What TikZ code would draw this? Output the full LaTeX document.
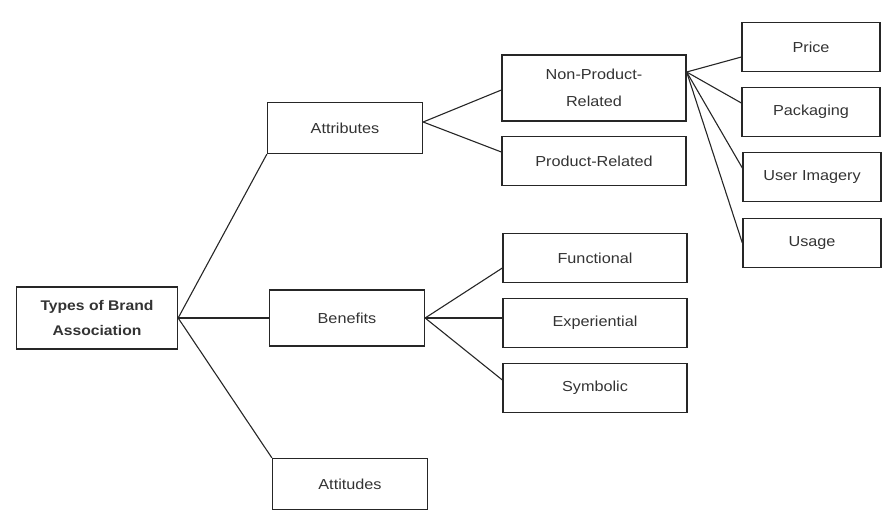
\documentclass[tikz,border=0pt]{standalone}
\usepackage{fontspec}
\setmainfont[FakeStretch=1.12]{Liberation Sans}
\tikzset{
    box/.style={draw=black!85, line width=1.3pt, inner sep=0pt, align=center,
        text=black!80, font=\fontsize{14.5}{27}\selectfont},
    rootbox/.style={box, minimum width=161pt, minimum height=62pt, font=\bfseries\fontsize{14}{25}\selectfont},
    midbox/.style={box, minimum width=155pt, minimum height=51pt},
    subbox/.style={box, minimum width=184pt, minimum height=49pt},
    leafbox/.style={box, minimum width=138pt, minimum height=49pt},
    link/.style={line width=1.1pt, black!85}
}
\begin{document}
\begin{tikzpicture}[x=1pt, y=-1pt]
        \useasboundingbox (0,0) rectangle (891,515);

        % Root
        \node[rootbox] (types) at (97,318) {Types of Brand\\Association};

        % Level 1
        \node[midbox] (attr) at (345,128) {Attributes};
        \node[midbox, minimum height=56pt] (bene) at (347,318) {Benefits};
        \node[midbox] (atti) at (350,484) {Attitudes};

        % Level 2
        \node[subbox, minimum height=66pt] (nonprod) at (594,88) {Non-Product-\\Related};
        \node[subbox] (prod) at (594,161) {Product-Related};
        \node[subbox] (func) at (595,258) {Functional};
        \node[subbox] (expe) at (595,323) {Experiential};
        \node[subbox] (symb) at (595,388) {Symbolic};

        % Level 3
        \node[leafbox] (price) at (811,47) {Price};
        \node[leafbox] (pack) at (811,112) {Packaging};
        \node[leafbox] (user) at (812,177) {User Imagery};
        \node[leafbox] (usage) at (812,243) {Usage};

        % Connectors
        \draw[link] (types.east) -- (attr.south west);
        \draw[link] (types.east) -- (bene.west);
        \draw[link] (types.east) -- (atti.north west);

        \coordinate (attrout) at ([yshift=6pt]attr.east);
        \draw[link] (attrout) -- ([yshift=-2pt]nonprod.west);
        \draw[link] (attrout) -- ([yshift=9pt]prod.west);

        \draw[link] (bene.east) -- ([yshift=-10pt]func.west);
        \draw[link] (bene.east) -- ([yshift=5pt]expe.west);
        \draw[link] (bene.east) -- ([yshift=8pt]symb.west);

        \coordinate (npout) at ([yshift=16pt]nonprod.east);
        \foreach \n/\s in {price/-10,pack/9,user/9,usage/0} {
            \draw[link] (npout) -- ([yshift=\s pt]\n.west);
        }
    \end{tikzpicture}
\end{document}
